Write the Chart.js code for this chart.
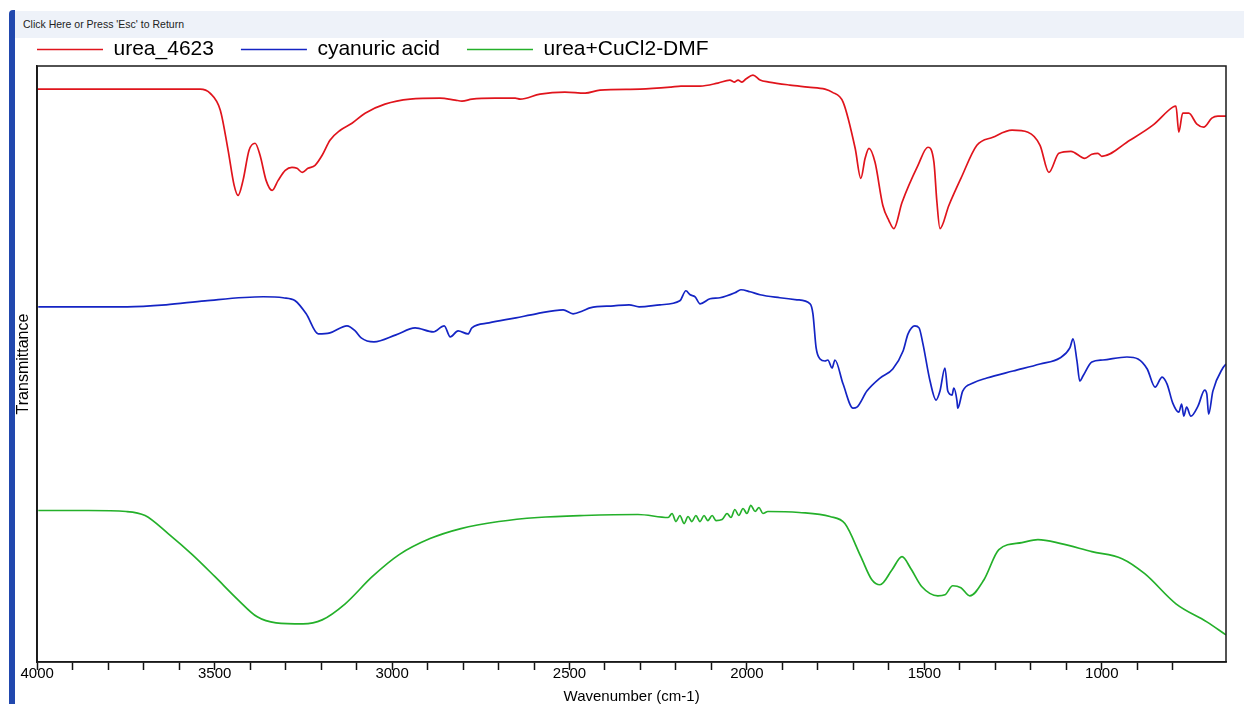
<!DOCTYPE html>
<html>
<head>
<meta charset="utf-8">
<script src="https://cdn.jsdelivr.net/npm/chart.js@4"></script>
<style>
  html, body { margin: 0; padding: 0; background: #fff; }
  body { width: 1244px; height: 704px; position: relative; overflow: hidden; font-family: "Liberation Sans", Arial, sans-serif; }
  #edge { position: absolute; left: 9px; top: 10px; width: 6px; height: 694px; background: #2148ae; border-top-left-radius: 4px; }
  #bar { position: absolute; left: 15px; top: 11px; right: 0; height: 27px; background: #eef2f9; font-size: 10.5px; color: #222; line-height: 27px; padding-left: 8px; }
  #wrap { position: absolute; left: 0; top: 0; width: 1244px; height: 704px; }
</style>
</head>
<body>
<div id="edge"></div>
<div id="bar">Click Here or Press 'Esc' to Return</div>
<div id="wrap"><canvas id="irChart"></canvas></div>
<script>
// IR spectra, transmittance in arbitrary (stacked) units

const seriesNames = ['urea_4623', 'cyanuric acid', 'urea+CuCl2-DMF'];
const xTickStep = 100;
const xLabelStep = 500;

const ureaWn = [4000, 3823, 3682, 3541, 3513, 3484, 3462, 3445, 3434, 3420, 3403, 3386, 3372, 3355, 3338, 3321,
  3301, 3282, 3268, 3253, 3237, 3217, 3197, 3175, 3146, 3113, 3076, 3020, 2949, 2865, 2822, 2803, 2775, 2710,
  2653, 2639, 2583, 2513, 2456, 2414, 2301, 2214, 2186, 2132, 2082, 2048, 2036, 2025, 2014, 2003, 1983, 1963,
  1938, 1879, 1828, 1780, 1760, 1729, 1695, 1679, 1667, 1656, 1639, 1617, 1600, 1586, 1563, 1518, 1490, 1473,
  1465, 1456, 1431, 1397, 1352, 1307, 1253, 1208, 1174, 1149, 1121, 1087, 1048, 1028, 1011, 1000, 921, 856,
  800, 791, 783, 772, 755, 732, 713, 690, 673, 650];
const ureaT = [571, 571, 571, 571, 567, 550, 510, 475, 465, 480, 510, 517, 505, 480, 470, 480,
  490, 493, 492, 488, 492, 495, 505, 520, 530, 537, 547, 556, 561, 562, 560, 559, 561, 562,
  562, 561, 566, 568, 567, 570, 571, 573, 574, 574, 577, 580, 578, 580, 578, 581, 585, 580,
  578, 575, 573, 571, 568, 558, 512, 482, 502, 512, 498, 455, 440, 432, 458, 495, 513, 498,
  460, 432, 455, 482, 515, 523, 530, 528, 515, 488, 507, 509, 502, 506, 507, 504, 520, 535,
  553, 554, 528, 547, 547, 536, 533, 542, 544, 544];

const cyanWn = [3997, 3746, 3637, 3527, 3363, 3307, 3273, 3242, 3208, 3175, 3127, 3104, 3087, 3051, 2989, 2935,
  2884, 2853, 2836, 2814, 2786, 2775, 2727, 2651, 2594, 2518, 2490, 2462, 2442, 2375, 2332, 2304, 2245, 2189,
  2172, 2160, 2146, 2132, 2104, 2076, 2034, 2017, 1991, 1963, 1907, 1859, 1822, 1814, 1805, 1794, 1780, 1772,
  1760, 1752, 1729, 1701, 1690, 1662, 1625, 1589, 1560, 1546, 1527, 1515, 1504, 1484, 1467, 1456, 1442, 1434,
  1422, 1417, 1408, 1406, 1392, 1363, 1324, 1250, 1174, 1118, 1090, 1081, 1070, 1062, 1053, 1028, 997, 929,
  898, 872, 850, 830, 816, 800, 783, 775, 769, 761, 749, 729, 710, 704, 699, 687, 659, 650];
const cyanT = [354, 354, 356, 360, 364, 363, 360, 347, 327, 328, 335, 330, 323, 319, 326, 333,
  329, 335, 324, 330, 327, 333, 338, 343, 347, 351, 347, 350, 353, 355, 356, 354, 356, 360,
  370, 366, 364, 357, 362, 363, 368, 371, 369, 366, 363, 361, 357, 347, 313, 302, 300, 301,
  293, 301, 277, 253, 254, 270, 283, 292, 310, 327, 335, 333, 317, 280, 261, 270, 293, 270,
  266, 273, 260, 253, 270, 278, 283, 290, 297, 303, 313, 322, 300, 280, 285, 299, 301, 304,
  302, 292, 274, 284, 277, 258, 249, 257, 245, 254, 245, 255, 271, 267, 247, 270, 293, 297];

const cuWn = [3997, 3856, 3749, 3696, 3631, 3563, 3499, 3434, 3380, 3327, 3251, 3197, 3132, 3056, 2980, 2893,
  2806, 2699, 2589, 2459, 2307, 2222, 2211, 2200, 2189, 2177, 2166, 2155, 2144, 2132, 2121, 2110, 2098, 2087,
  2070, 2056, 2045, 2034, 2023, 2011, 2000, 1989, 1977, 1966, 1955, 1941, 1853, 1766, 1724, 1679, 1648, 1625,
  1591, 1563, 1538, 1507, 1462, 1442, 1420, 1397, 1372, 1332, 1290, 1225, 1180, 1115, 1028, 943, 879, 791,
  704, 650];
const cuT = [151, 151, 150, 146, 128, 107, 85, 62, 45, 39, 38, 42, 58, 85, 107, 123,
  133, 140, 144, 146, 147, 144, 148, 140, 146, 138, 145, 140, 146, 140, 146, 141, 146, 141,
  142, 148, 144, 152, 146, 153, 148, 156, 150, 154, 148, 150, 149, 145, 138, 105, 82, 77,
  92, 105, 93, 75, 66, 67, 76, 74, 66, 82, 112, 119, 122, 118, 110, 103, 88, 58,
  40, 27];

const spectra = [
  { name: seriesNames[0], wn: ureaWn, t: ureaT, color: '#e0141c' },
  { name: seriesNames[1], wn: cyanWn, t: cyanT, color: '#1424c4' },
  { name: seriesNames[2], wn: cuWn, t: cuT, color: '#24b02a' }
];

const FONT = "'Liberation Sans', Arial, sans-serif";

// top and right edge of the plot frame
const frameBox = {
  id: 'frameBox',
  afterDatasetsDraw(chart) {
    const a = chart.chartArea, ctx = chart.ctx;
    ctx.save();
    ctx.strokeStyle = '#1a1a1a';
    ctx.lineWidth = 1.5;
    ctx.strokeRect(a.left, a.top, a.right - a.left, a.bottom - a.top);
    ctx.restore();
  }
};

new Chart(document.getElementById('irChart'), {
  type: 'line',
  data: {
    datasets: spectra.map(s => ({
      label: s.name,
      data: s.wn.map((w, i) => ({ x: w, y: s.t[i] })),
      borderColor: s.color,
      backgroundColor: s.color,
      borderWidth: 1.7,
      pointRadius: 0,
      cubicInterpolationMode: 'monotone',
      fill: false
    }))
  },
  options: {
    responsive: true,
    maintainAspectRatio: false,
    animation: false,
    layout: { padding: { top: 12, left: 10, right: 18, bottom: 0 } },
    plugins: {
      legend: {
        position: 'top',
        align: 'start',
        maxHeight: 54,
        labels: {
          usePointStyle: true,
          pointStyle: 'line',
          pointStyleWidth: 66,
          padding: 27,
          color: '#000',
          font: { family: FONT, size: 21 }
        }
      },
      tooltip: { enabled: false }
    },
    scales: {
      x: {
        type: 'linear',
        min: 650,
        max: 4000,
        reverse: true,
        afterBuildTicks: axis => {
          axis.ticks = axis.ticks.filter(t => t.value % xTickStep === 0);
        },
        ticks: {
          stepSize: xTickStep,
          autoSkip: false,
          maxRotation: 0,
          padding: -5,
          color: '#000',
          font: { family: FONT, size: 15 },
          callback: v => (v % xLabelStep === 0 ? String(v) : '')
        },
        grid: { drawOnChartArea: false, tickLength: 8, tickColor: '#111', tickWidth: 1.5 },
        border: { display: true, color: '#1a1a1a', width: 1.5 },
        title: {
          display: true,
          text: 'Wavenumber (cm-1)',
          color: '#000',
          padding: { top: 10, bottom: -2 },
          font: { family: FONT, size: 15 }
        }
      },
      y: {
        min: 0,
        max: 594,
        ticks: { display: false },
        grid: { display: false },
        border: { display: true, color: '#1a1a1a', width: 1.5 },
        title: {
          display: true,
          text: 'Transmittance',
          color: '#000',
          padding: { top: 4, bottom: -4 },
          font: { family: FONT, size: 16 }
        }
      }
    }
  },
  plugins: [frameBox]
});
</script>
</body>
</html>
